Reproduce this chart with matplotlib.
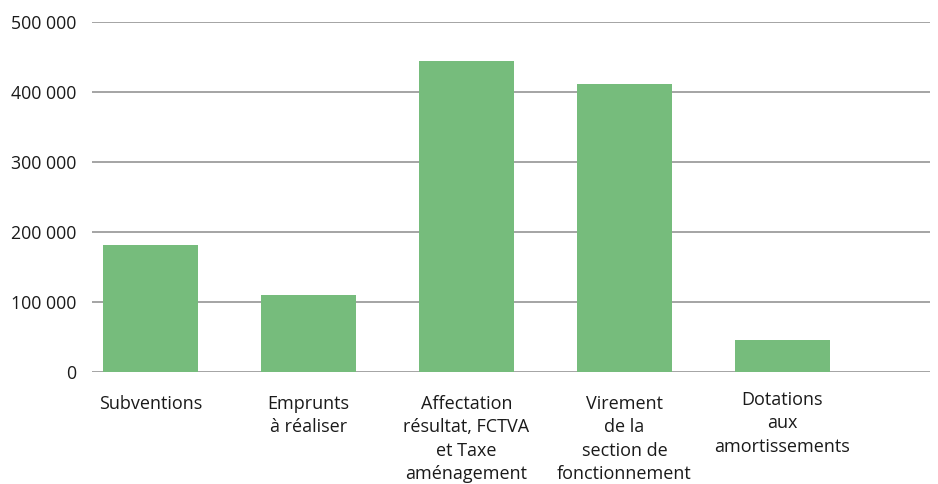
import numpy as np
import matplotlib.pyplot as plt

categories = ["Subventions",
              "Emprunts\nà réaliser",
              "Affectation\nrésultat, FCTVA\net Taxe\naménagement",
              "Virement\nde la\nsection de\nfonctionnement",
              "Dotations\naux\namortissements"]
values = [181000, 110000, 444000, 411500, 45500]
yticks = [0, 100000, 200000, 300000, 400000, 500000]
ytick_labels = ["0", "100 000", "200 000", "300 000", "400 000", "500 000"]

plt.rcParams['font.family'] = ['Open Sans', 'DejaVu Sans']

fig = plt.figure(figsize=(9.38, 4.84), dpi=100)
ax = fig.add_axes([92/938, 1 - 372/484, (930 - 92)/938, 350/484])

x = np.arange(len(categories))
ax.bar(x, values, width=0.60, color='#76bc7c', zorder=3)

ax.set_ylim(0, 500000)
ax.set_xlim(-0.37, 4.934)
ax.set_yticks(yticks)
ax.set_yticklabels(ytick_labels, fontsize=12.8, color='#1a1a1a')
ax.tick_params(axis='y', length=0, pad=11)
ax.set_xticks([])
ax.grid(axis='y', color='#8c8c8c', linewidth=1.1, zorder=0)
for s in ax.spines.values():
    s.set_visible(False)

# category labels under the axis (last one sits a bit higher)
offsets = [0, 0, 0, 0, -4]
for i, lab in enumerate(categories):
    ax.annotate(lab, xy=(x[i], 0), xycoords='data',
                xytext=(0, -16.5 - offsets[i] * 0.72), textcoords='offset points',
                ha='center', va='top', fontsize=13, color='#1a1a1a',
                linespacing=1.38, annotation_clip=False)

fig.savefig("out.png", dpi=100)
